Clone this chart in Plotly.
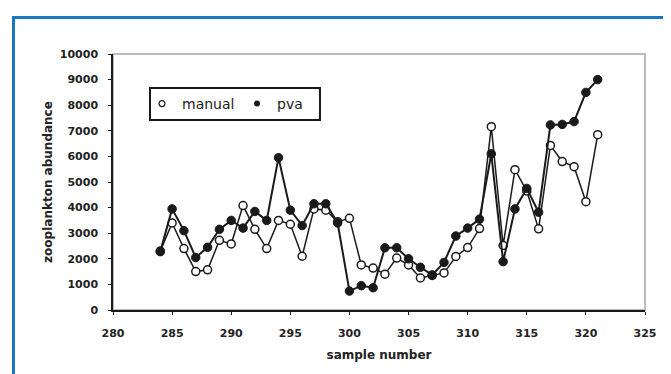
import plotly.graph_objects as go

sample_number = list(range(284, 322))
manual = [2300, 3400, 2400, 1500, 1570, 2720, 2580, 4080, 3150, 2400,
          3500, 3350, 2100, 3950, 3900, 3450, 3580, 1760, 1640, 1400,
          2030, 1760, 1250, 1350, 1450, 2090, 2440, 3180, 7160, 2520,
          5480, 4650, 3170, 6430, 5800, 5600, 4230, 6850]
pva = [2280, 3950, 3100, 2050, 2450, 3150, 3500, 3200, 3850, 3500,
       5950, 3900, 3300, 4150, 4150, 3400, 740, 950, 870, 2430,
       2430, 2000, 1670, 1370, 1860, 2890, 3200, 3550, 6100, 1890,
       3950, 4750, 3820, 7230, 7250, 7360, 8500, 9000]
x_ticks = [280, 285, 290, 295, 300, 305, 310, 315, 320, 325]
y_ticks = [0, 1000, 2000, 3000, 4000, 5000, 6000, 7000, 8000, 9000, 10000]

W, H = 671, 374
L, R, T, B = 105, 34, 46, 72
PW, PH = W - L - R, H - T - B


def px(xp):
    return (xp - L) / PW


def py(yp):
    return (H - B - yp) / PH


FONT = "DejaVu Sans"
INK = "#1a1a1a"

fig = go.Figure()
fig.add_trace(go.Scatter(
    x=sample_number, y=manual, mode="lines+markers", showlegend=False,
    line=dict(color=INK, width=1.5),
    marker=dict(symbol="circle", size=8, color="white", line=dict(color=INK, width=1.5)),
))
fig.add_trace(go.Scatter(
    x=sample_number, y=pva, mode="lines+markers", showlegend=False,
    line=dict(color=INK, width=2),
    marker=dict(symbol="circle", size=8.5, color=INK, line=dict(color=INK, width=1)),
))
# legend-only entries (markers only)
fig.add_trace(go.Scatter(
    x=[None], y=[None], mode="markers", name="manual",
    marker=dict(symbol="circle", size=6, color="white", line=dict(color=INK, width=1.2)),
))
fig.add_trace(go.Scatter(
    x=[None], y=[None], mode="markers", name="pva",
    marker=dict(symbol="circle", size=6, color=INK),
))

shapes = [
    # light frame of plot area
    dict(type="rect", xref="paper", yref="paper", x0=0, x1=1, y0=0, y1=1,
         line=dict(color="#a8a8a8", width=1.5), layer="below"),
    # legend box
    dict(type="rect", xref="paper", yref="paper", x0=px(142), x1=px(312), y0=py(112), y1=py(80),
         line=dict(color=INK, width=2)),
    # blue outer frame (top and left)
    dict(type="line", xref="paper", yref="paper", x0=px(4), x1=px(680), y0=py(9.5), y1=py(9.5),
         line=dict(color="#1b77c3", width=3)),
    dict(type="line", xref="paper", yref="paper", x0=px(5.5), x1=px(5.5), y0=py(8), y1=py(380),
         line=dict(color="#1b77c3", width=3)),
]

fig.update_layout(
    width=W, height=H,
    margin=dict(l=L, r=R, t=T, b=B, pad=0),
    paper_bgcolor="white", plot_bgcolor="white",
    font=dict(family=FONT, color="#222"),
    shapes=shapes,
    legend=dict(
        orientation="h", x=px(134), y=py(96), xanchor="left", yanchor="middle",
        bgcolor="rgba(0,0,0,0)", borderwidth=0,
        font=dict(family=FONT, size=14, color="#222"),
        entrywidth=50, entrywidthmode="pixels",
        itemwidth=30,
    ),
    xaxis=dict(
        range=[280, 325], tickvals=x_ticks, ticktext=[str(v) for v in x_ticks],
        showgrid=False, zeroline=False,
        showline=True, linecolor=INK, linewidth=1.5,
        ticks="outside", ticklen=3, tickcolor=INK, tickwidth=1,
        tickfont=dict(family=FONT, size=11, color="#222", weight="bold"),
        ticklabelstandoff=9,
        title=dict(text="sample number", standoff=12,
                   font=dict(family=FONT, size=12, color="#222", weight="bold")),
    ),
    yaxis=dict(
        range=[0, 10000], tickvals=y_ticks, ticktext=[str(v) for v in y_ticks],
        showgrid=False, zeroline=False,
        showline=True, linecolor=INK, linewidth=1.5,
        ticks="outside", ticklen=3, tickcolor=INK, tickwidth=1,
        tickfont=dict(family=FONT, size=11, color="#222", weight="bold"),
        ticklabelstandoff=8,
        title=dict(text="zooplankton abundance", standoff=5,
                   font=dict(family=FONT, size=12, color="#222", weight="bold")),
    ),
)

fig.write_html("out.html")
